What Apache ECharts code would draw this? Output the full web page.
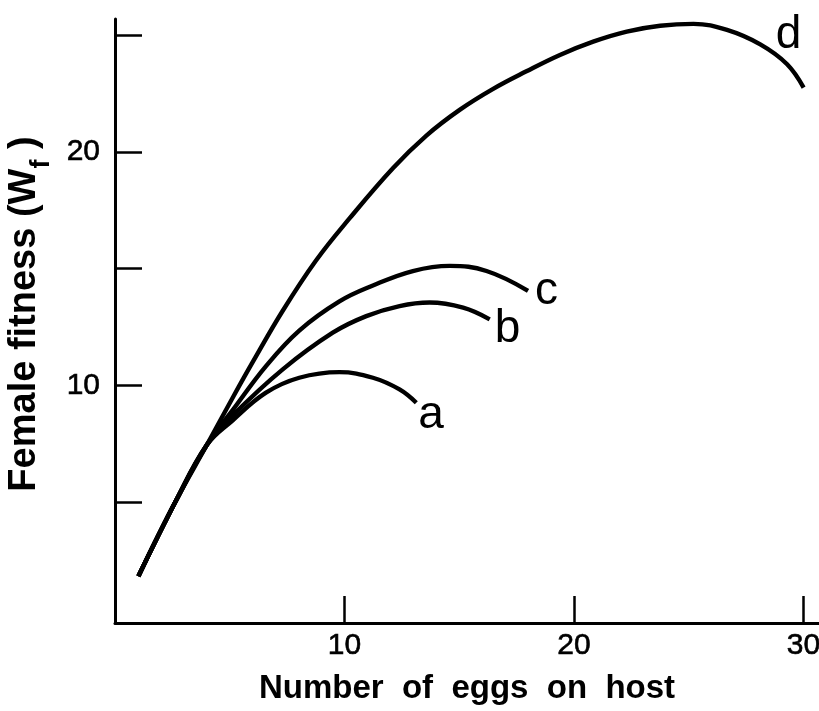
<!DOCTYPE html>
<html>
<head>
<meta charset="utf-8">
<script src="https://cdn.jsdelivr.net/npm/echarts@6/dist/echarts.min.js"></script>
<style>
  html, body { margin: 0; background: #fff; }
  #main { width: 819px; height: 711px; }
</style>
</head>
<body>
<div id="main"></div>
<script>
// curves: [eggs on host, female fitness]
var curveA = [[1.02, 1.83], [2.65, 5.05], [4.0, 7.45], [5.12, 8.5], [6.58, 9.69], [8.03, 10.33], [9.78, 10.57], [11.24, 10.33], [12.40, 9.83], [13.13, 9.26]];
var curveB = [[1.02, 1.83], [2.65, 5.05], [4.0, 7.45], [5.11, 8.7], [7.31, 10.69], [9.49, 12.26], [10.95, 12.97], [12.40, 13.40], [13.71, 13.55], [15.17, 13.33], [16.33, 12.83]];
var curveC = [[1.02, 1.83], [2.65, 5.05], [4.0, 7.45], [5.17, 9.0], [6.58, 10.83], [8.03, 12.35], [9.78, 13.6], [11.24, 14.28], [12.98, 14.9], [14.59, 15.12], [16.19, 14.9], [18.00, 14.05]];
var curveD = [[1.02, 1.83], [2.65, 5.05], [4.0, 7.45], [5.17, 9.55], [6.03, 11.05], [7.31, 13.2], [8.76, 15.35], [10.22, 17.15], [12.11, 19.3], [13.57, 20.7], [15.02, 21.8], [16.48, 22.7], [17.93, 23.45], [19.39, 24.15], [20.84, 24.72], [22.30, 25.15], [23.76, 25.4], [25.21, 25.48], [26.67, 25.22], [28.12, 24.6], [29.29, 23.75], [30.01, 22.75]];
var curveNames = ['a', 'b', 'c', 'd'];

var xTicks = [10, 20, 30];
var yTicks = [5, 10, 15, 20, 25];
var yLabels = [10, 20];

var font = '"Liberation Sans", Helvetica, Arial, sans-serif';

var chart = echarts.init(document.getElementById('main'));

function curve(name, data) {
  return {
    name: name,
    type: 'line',
    data: data,
    smooth: 0.4,
    symbol: 'none',
    lineStyle: { color: '#000', width: 4.4, cap: 'butt' }
  };
}

chart.setOption({
  animation: false,
  backgroundColor: '#fff',
  grid: { left: 115, right: 0, top: 19, bottom: 88, containLabel: false, outerBoundsMode: 'none' },
  xAxis: {
    type: 'value',
    min: 0,
    max: 30.68,
    name: 'Number  of  eggs  on  host',
    nameLocation: 'middle',
    nameGap: 49,
    nameTextStyle: { fontFamily: font, fontSize: 33, fontWeight: 'bold', color: '#000' },
    axisLine: { onZero: false, lineStyle: { color: '#000', width: 3 } },
    axisTick: { inside: true, length: 27, customValues: xTicks, lineStyle: { color: '#000', width: 2.5 } },
    axisLabel: { customValues: xTicks, fontFamily: font, fontSize: 30, color: '#000', margin: 8, textBorderColor: '#000', textBorderWidth: 0.6 },
    splitLine: { show: false }
  },
  yAxis: {
    type: 'value',
    min: -0.17,
    max: 25.69,
    name: 'Female fitness (W{s|f} )',
    nameLocation: 'middle',
    nameGap: 59,
    nameTextStyle: {
      fontFamily: font, fontSize: 38, fontWeight: 'bold', color: '#000',
      padding: [0, 0, 0, 14],
      rich: { s: { fontFamily: font, fontSize: 27, fontWeight: 'bold', color: '#000', lineHeight: 62, verticalAlign: 'bottom' } }
    },
    axisLine: { onZero: false, lineStyle: { color: '#000', width: 3 } },
    axisTick: { inside: true, length: 27, customValues: yTicks, lineStyle: { color: '#000', width: 2.5 } },
    axisLabel: { customValues: yLabels, fontFamily: font, fontSize: 30, color: '#000', margin: 15, textBorderColor: '#000', textBorderWidth: 0.6 },
    splitLine: { show: false }
  },
  series: [
    curve('a', curveA),
    curve('b', curveB),
    curve('c', curveC),
    curve('d', curveD)
  ]
});

// curve letters sit just past the end of each curve
var curves = [curveA, curveB, curveC, curveD];
var labelShift = [[2, 13], [5, 10], [7, 0], [-28, -52]];
var texts = curves.map(function (c, i) {
  var end = chart.convertToPixel({ gridIndex: 0 }, c[c.length - 1]);
  return {
    type: 'text',
    x: end[0] + labelShift[i][0],
    y: end[1] + labelShift[i][1],
    style: {
      text: curveNames[i],
      font: '46px ' + font,
      fill: '#000',
      textAlign: 'left',
      textVerticalAlign: 'middle'
    }
  };
});
chart.setOption({ graphic: texts });
</script>
</body>
</html>
